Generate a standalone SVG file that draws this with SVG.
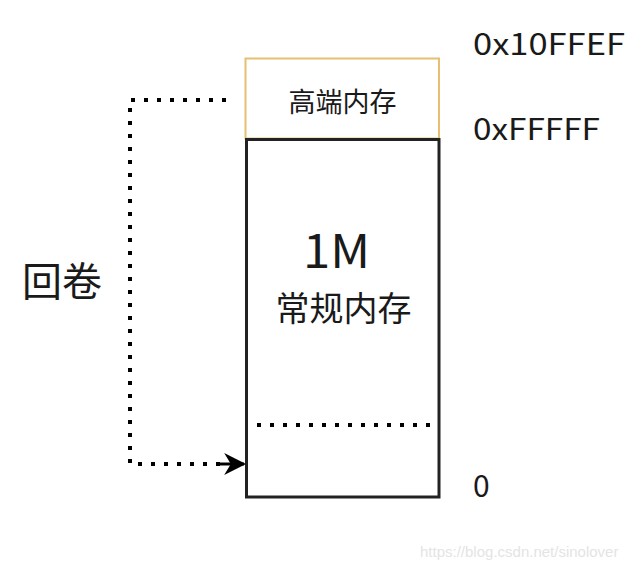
<svg xmlns="http://www.w3.org/2000/svg" width="640" height="570" viewBox="0 0 640 570">
<style>
.t{font-family:"Noto Sans CJK SC","Noto Sans",sans-serif;fill:#1a1a1a}
.dot{fill:none;stroke:#000;stroke-width:4;stroke-dasharray:0 13;stroke-linecap:square}
</style>
<defs>
<marker id="ah" viewBox="0 0 10 10" refX="9" refY="5" markerWidth="22" markerHeight="22" markerUnits="userSpaceOnUse" orient="auto">
<path d="M0,0 L10,5 L0,10 L3,5 Z" fill="#000"/>
</marker>
</defs>
<rect width="640" height="570" fill="#fff"/>
<g id="high">
<rect x="245.5" y="58.5" width="193.5" height="80" fill="none" stroke="#e6bf73" stroke-width="2"/>
<text class="t" x="342.5" y="112" font-size="27" text-anchor="middle">高端内存</text>
</g>
<g id="main">
<rect x="246.5" y="139.5" width="192.5" height="357.5" fill="none" stroke="#222" stroke-width="3"/>
<text class="t" x="303" y="268" font-size="47" textLength="67" lengthAdjust="spacingAndGlyphs" fill="#111">1M</text>
<text class="t" x="343.5" y="321" font-size="34" text-anchor="middle">常规内存</text>
<line class="dot" x1="259" y1="425" x2="430" y2="425"/>
</g>
<g id="labels">
<text class="t" x="473" y="55" font-size="30" textLength="152" lengthAdjust="spacingAndGlyphs">0x10FFEF</text>
<text class="t" x="473" y="140" font-size="30" textLength="127" lengthAdjust="spacingAndGlyphs">0xFFFFF</text>
<text class="t" x="473" y="497" font-size="30">0</text>
<text class="t" x="22" y="296" font-size="40">回卷</text>
</g>
<g id="connectors">
<path class="dot" d="M224,100 L130,100 L130,464 L220,464"/>
<line x1="220" y1="464" x2="244" y2="464" stroke="#000" stroke-width="3" marker-end="url(#ah)"/>
</g>
<text x="420" y="557" font-family="Liberation Sans,sans-serif" font-size="15" fill="#e4e4e4">https://blog.csdn.net/sinolover</text>
</svg>
